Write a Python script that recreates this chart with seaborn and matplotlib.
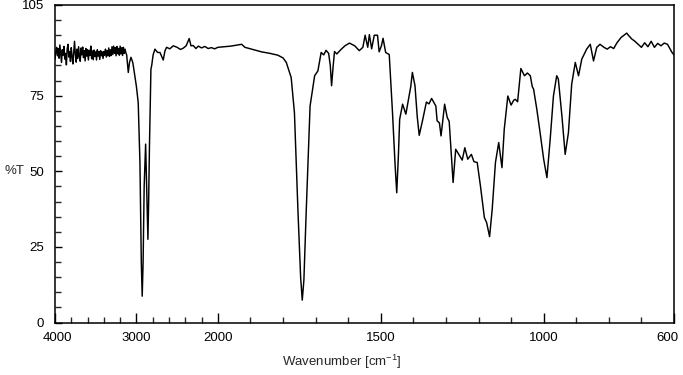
import numpy as np
import pandas as pd
import matplotlib
matplotlib.use("Agg")
import matplotlib.pyplot as plt
from matplotlib.ticker import FixedLocator, NullFormatter
from matplotlib.transforms import ScaledTranslation
import seaborn as sns

# spectrum (wavenumber in cm-1, %T)
# noisy baseline part, 4000-3130 cm-1 in steps of 10
noisy_wn = list(range(4000, 3120, -10))
noisy_T = [
    87.0, 89.5, 91.0, 88.2, 90.6, 87.4, 91.8, 88.9, 86.0, 90.2,
    88.4, 91.3, 87.1, 89.0, 85.2, 90.5, 92.0, 87.8, 89.6, 86.3,
    90.9, 88.0, 85.5, 89.2, 93.0, 88.6, 86.1, 90.4, 87.3, 91.2,
    88.0, 86.4, 90.8, 88.5, 91.1, 87.6, 89.9, 86.5, 90.6, 88.1,
    90.2, 86.8, 90.0, 88.3, 91.4, 87.2, 89.8, 86.9, 90.1, 88.0,
    89.5, 86.8, 90.2, 88.1, 89.6, 87.0, 89.9, 88.2, 89.5, 87.3,
    89.6, 88.4, 90.4, 87.8, 89.9, 88.2, 90.8, 88.0, 90.2, 88.3,
    91.2, 88.6, 91.4, 89.0, 90.9, 88.2, 91.3, 88.9, 90.6, 88.4,
    91.4, 88.8, 90.9, 88.3, 91.0, 89.0, 90.4, 89.2,
]

# rest of the spectrum, 3120-600 cm-1
band_wn = [
    3120, 3100, 3085, 3067, 3045, 3027,
    3000, 2978, 2957, 2940, 2929, 2918, 2905, 2887, 2871, 2859,
    2850, 2840, 2822, 2813, 2795, 2773, 2740, 2711, 2690, 2671,
    2650, 2630, 2590, 2548, 2500, 2460, 2426, 2390, 2352, 2330,
    2303, 2270, 2240, 2200, 2160, 2120, 2080, 2040, 2000, 1960,
    1927, 1917, 1890, 1866, 1840, 1816, 1800, 1790, 1775, 1765,
    1754, 1746, 1741, 1736, 1729, 1717, 1703, 1693, 1683, 1675,
    1668, 1660, 1655, 1651, 1646, 1642, 1635, 1622, 1610, 1596,
    1580, 1566, 1555, 1548, 1540, 1535, 1528, 1520, 1510, 1505,
    1498, 1493, 1485, 1474, 1464, 1456, 1451, 1446, 1442, 1433,
    1423, 1415, 1408, 1403, 1395, 1388, 1382, 1372, 1360, 1352,
    1344, 1331, 1327, 1320, 1315, 1304, 1296, 1290, 1283, 1278,
    1270, 1260, 1250, 1242, 1233, 1222, 1214, 1204, 1194, 1182,
    1175, 1166, 1158, 1148, 1138, 1128, 1121, 1110, 1100, 1092,
    1087, 1080, 1070, 1059, 1050, 1041, 1035, 1031, 1021, 1011,
    1000, 990, 980, 970, 960, 955, 944, 934, 924, 914,
    903, 893, 883, 868, 857, 847, 837, 827, 815, 805,
    795, 785, 775, 762, 745, 740, 730, 720, 710, 700,
    690, 680, 670, 660, 650, 640, 630, 620, 606, 600,
]
band_T = [
    88.5, 82.7, 86.0, 87.7, 86.0, 82.9,
    78.0, 72.7, 52.9, 19.8, 8.7, 20.0, 45.0, 59.0, 41.8, 27.5,
    40.0, 58.4, 83.8, 84.9, 88.5, 90.4, 89.3, 89.3, 88.0, 86.8,
    89.8, 91.0, 90.5, 91.5, 91.0, 90.3, 90.7, 91.5, 93.9, 91.5,
    91.6, 90.6, 91.4, 90.8, 91.3, 90.6, 90.9, 90.5, 91.0, 91.4,
    92.0, 91.0, 90.2, 89.5, 89.0, 88.4, 87.5, 86.0, 81.0, 69.4,
    36.3, 15.0, 7.4, 14.0, 36.3, 71.6, 81.6, 83.2, 89.3, 88.5,
    90.0, 89.0, 85.0, 78.3, 85.0, 89.6, 88.8, 90.3, 91.5, 92.4,
    91.5, 89.9, 91.0, 95.0, 91.0, 95.2, 90.5, 95.0, 95.0, 89.5,
    91.5, 94.0, 89.3, 88.6, 69.4, 52.0, 42.9, 55.0, 67.2, 72.2,
    68.9, 73.8, 78.0, 82.7, 78.3, 68.0, 61.9, 66.7, 72.9, 72.3,
    74.1, 71.6, 66.7, 66.0, 61.7, 72.2, 67.8, 66.5, 55.0, 46.3,
    57.3, 55.5, 53.7, 57.8, 54.0, 55.6, 53.2, 52.9, 45.1, 34.7,
    33.0, 28.4, 37.4, 52.9, 59.5, 51.2, 63.9, 74.9, 71.9, 73.5,
    73.8, 73.0, 84.0, 81.6, 82.5, 81.6, 78.0, 77.2, 70.5, 62.8,
    54.0, 47.9, 60.6, 74.9, 81.6, 80.5, 68.3, 55.6, 62.8, 78.8,
    86.0, 81.6, 87.1, 90.4, 92.0, 86.5, 91.0, 92.0, 91.0, 90.4,
    91.2, 90.6, 92.5, 94.3, 95.7, 95.0, 93.8, 93.0, 92.0, 91.0,
    92.5, 91.2, 93.0, 91.0, 92.3, 91.5, 92.4, 92.0, 89.3, 88.5,
]

x_major = [4000, 3000, 2000, 1500, 1000, 600]
x_minor = [3800, 3600, 3400, 3200, 2800, 2600, 2400, 2200,
           1900, 1800, 1700, 1600, 1400, 1300, 1200, 1100,
           900, 800, 700]
y_major = [0, 25, 50, 75, 105]
y_minor = [5, 10, 15, 20, 30, 35, 40, 45, 55, 60, 65, 70, 80, 85, 90, 95, 100]

df = pd.DataFrame({"wn": noisy_wn + band_wn, "T": noisy_T + band_T})

sns.set_style("ticks")
plt.rcParams["font.family"] = ["Liberation Sans", "DejaVu Sans"]
plt.rcParams["mathtext.fontset"] = "custom"
plt.rcParams["mathtext.rm"] = "Liberation Sans"
plt.rcParams["mathtext.default"] = "regular"

fig = plt.figure(figsize=(6.83, 3.75), dpi=100)
ax = fig.add_axes([0.0805, 0.14, 0.9063, 0.8467])

sns.lineplot(data=df, x="wn", y="T", sort=False, estimator=None,
             color="black", linewidth=1.05, ax=ax)


# wavenumber axis is compressed 4x above 2000 cm-1
def fwd(w):
    w = np.asarray(w, dtype=float)
    return np.where(w > 2000, 2000 + (w - 2000) / 4.0, w)


def inv(u):
    u = np.asarray(u, dtype=float)
    return np.where(u > 2000, 2000 + (u - 2000) * 4.0, u)


ax.set_xscale("function", functions=(fwd, inv))
ax.set_xlim(4000, 600)
ax.set_ylim(0, 105)

ax.xaxis.set_major_locator(FixedLocator(x_major))
ax.xaxis.set_minor_locator(FixedLocator(x_minor))
ax.set_xticklabels([str(v) for v in x_major])
ax.xaxis.set_minor_formatter(NullFormatter())
ax.yaxis.set_major_locator(FixedLocator(y_major))
ax.yaxis.set_minor_locator(FixedLocator(y_minor))
ax.set_yticklabels([str(v) for v in y_major])

ax.tick_params(axis="x", which="major", direction="in", length=7, width=1,
               labelsize=9.5, pad=7, colors="black")
ax.tick_params(axis="y", which="major", direction="in", length=5, width=1,
               labelsize=9.5, pad=8, colors="black")
ax.tick_params(which="minor", direction="in", length=4, width=1)

# keep the end labels inside the figure like the reference
first_lbl = ax.get_xticklabels()[0]
last_lbl = ax.get_xticklabels()[-1]
first_lbl.set_transform(first_lbl.get_transform() + ScaledTranslation(2 / 100, 0, fig.dpi_scale_trans))
last_lbl.set_transform(last_lbl.get_transform() + ScaledTranslation(-7 / 100, 0, fig.dpi_scale_trans))

for s in ax.spines.values():
    s.set_visible(True)
    s.set_linewidth(1.1)
    s.set_color("black")

ax.set_xlabel("Wavenumber [cm$^{-1}$]", fontsize=9.5)
ax.xaxis.set_label_coords(0.463, -0.097)
ax.set_ylabel("%T", fontsize=9.5, rotation=0, ha="center", va="center")
ax.yaxis.set_label_coords(-0.066, 50 / 105)

fig.savefig("out.png", dpi=100)
